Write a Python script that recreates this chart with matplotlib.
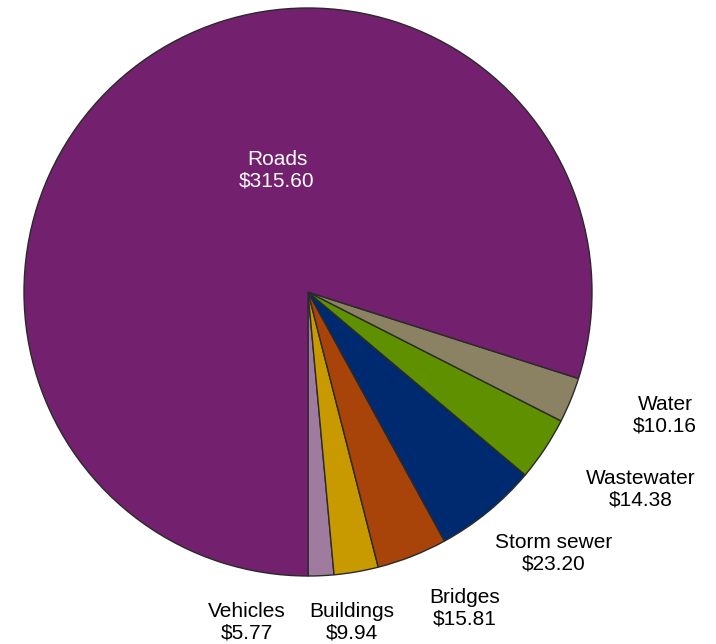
import matplotlib.pyplot as plt

# Asset replacement values (millions), in drawing order from 6 o'clock counterclockwise
categories = ['Vehicles', 'Buildings', 'Bridges', 'Storm sewer', 'Wastewater', 'Water', 'Roads']
values = [5.77, 9.94, 15.81, 23.20, 14.38, 10.16, 315.60]
colors = ['#A07BA0', '#C99A00', '#A8430A', '#002A70', '#5E9000', '#8A8262', '#73206F']

# label centres in pixels (x from left, y from top)
label_px = {
    'Vehicles': (247, 622),
    'Buildings': (352, 622),
    'Bridges': (465, 608),
    'Storm sewer': (554, 553),
    'Wastewater': (641, 489),
    'Water': (665, 415),
    'Roads': (277, 170),
}

W, H = 716, 644
cx, cy, r = 308, 292, 284

plt.rcParams['font.family'] = ['Liberation Sans', 'DejaVu Sans']

fig = plt.figure(figsize=(W / 100, H / 100), dpi=100)
ax = fig.add_axes([0, 0, 1, 1])

wedges, _ = ax.pie(values, colors=colors, startangle=-90, counterclock=True,
                   radius=1.0, wedgeprops=dict(edgecolor='#2a2a2a', linewidth=1.0))

ax.set_xlim(-cx / r, (W - cx) / r)
ax.set_ylim(-(H - cy) / r, cy / r)
ax.set_aspect('equal')
ax.axis('off')


def to_data(px, py):
    return (px - cx) / r, (cy - py) / r


for name, val in zip(categories, values):
    x, y = to_data(*label_px[name])
    col = 'white' if name == 'Roads' else 'black'
    ax.text(x, y, f'{name}\n${val:.2f}', ha='center', va='center',
            fontsize=15, color=col, linespacing=1.15)

fig.savefig('out.png', dpi=100)
